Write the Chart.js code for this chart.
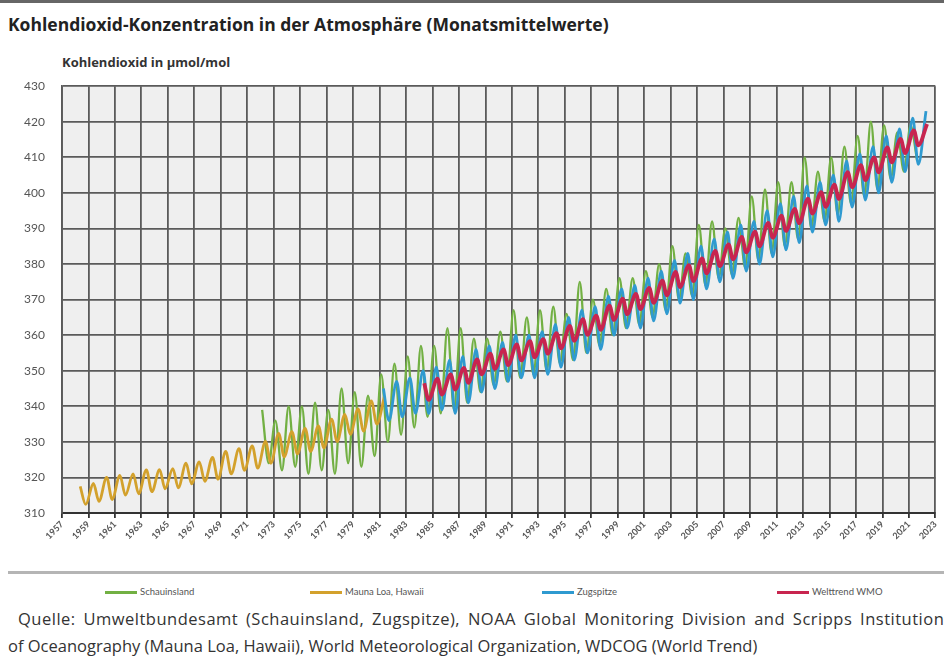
<!DOCTYPE html>
<html lang="de">
<head>
    <meta charset="UTF-8">
    <title>Kohlendioxid-Konzentration</title>
    <script src="https://cdn.jsdelivr.net/npm/chart.js"></script>
    <style>
        body {
            margin: 0;
            width: 944px;
            height: 656px;
            overflow: hidden;
            background: #fff;
            font-family: 'Open Sans', 'Lato', sans-serif;
            color: #333;
            position: relative;
        }

        .topbar {
            position: absolute;
            left: 0; top: 0;
            width: 944px; height: 3px;
            background: #666;
        }

        h1 {
            position: absolute;
            left: 8px; top: 12px;
            margin: 0;
            font-size: 17.5px;
            font-weight: bold;
            color: #222;
            white-space: nowrap;
        }

        .unit {
            position: absolute;
            left: 62px; top: 53px;
            font-size: 13px;
            font-weight: bold;
            color: #333;
        }

        .chart-box {
            position: absolute;
            left: 0; top: 62px;
            width: 944px; height: 498px;
        }

        canvas { display: block; }

        .rule {
            position: absolute;
            left: 8px; top: 571px;
            width: 936px; height: 3px;
            background: #b5b5b5;
        }

        .legend {
            position: absolute;
            top: 586px; left: 0;
            width: 944px; height: 12px;
            font-family: 'Lato', sans-serif;
            font-size: 9.5px;
            color: #555;
        }

        .legend span {
            position: absolute;
            top: 0;
            white-space: nowrap;
        }

        .legend i {
            display: inline-block;
            width: 32px; height: 3px;
            vertical-align: middle;
            margin-right: 3px;
        }

        .source {
            position: absolute;
            font-size: 16.5px;
            color: #333;
            white-space: nowrap;
        }
    </style>
</head>
<body>

<div class="topbar"></div>
<h1>Kohlendioxid-Konzentration in der Atmosphäre (Monatsmittelwerte)</h1>
<div class="unit">Kohlendioxid in µmol/mol</div>

<div class="chart-box">
    <canvas id="co2Chart" width="944" height="498"></canvas>
</div>

<div class="rule"></div>
<div class="legend" id="legend"></div>

<div class="source" style="left:18px; top:607px; letter-spacing:0.5px; word-spacing:3px;">Quelle: Umweltbundesamt (Schauinsland, Zugspitze), NOAA Global Monitoring Division and Scripps Institution</div>
<div class="source" style="left:8px; top:634px;">of Oceanography (Mauna Loa, Hawaii), World Meteorological Organization, WDCOG (World Trend)</div>

<script>
    // Achsen
    const yearTicks = [1957, 1959, 1961, 1963, 1965, 1967, 1969, 1971, 1973, 1975, 1977, 1979, 1981, 1983,
        1985, 1987, 1989, 1991, 1993, 1995, 1997, 1999, 2001, 2003, 2005, 2007, 2009, 2011, 2013, 2015,
        2017, 2019, 2021, 2023];
    const co2Ticks = [310, 320, 330, 340, 350, 360, 370, 380, 390, 400, 410, 420, 430];

    // Mauna Loa, Hawaii: Jahresmaximum (Mai) und -minimum (Oktober), ab 1958
    const maunaLoaStart = 1958;
    const maunaLoaHigh = [317.5, 318.3, 320.0, 320.6, 321.0, 322.1, 322.2, 322.5, 324.0, 324.4, 325.6, 327.3,
        328.1, 328.9, 330.1, 332.4, 332.9, 333.8, 334.5, 336.4, 337.7, 339.3, 341.5, 342.9];
    const maunaLoaLow = [312.4, 313.3, 313.8, 315.0, 315.4, 316.0, 316.8, 317.1, 318.2, 318.9, 319.5, 321.0,
        322.0, 322.6, 324.0, 325.8, 326.6, 327.3, 328.3, 330.1, 332.1, 333.0, 335.0];

    // Schauinsland: Wintermaximum (Februar) und Sommerminimum (August), ab 1972
    const schauinslandStart = 1972;
    const schauinslandHigh = [339, 336, 340, 340, 341, 339, 345, 344, 343, 349, 352, 354, 357, 357, 362, 362,
        359, 359, 361, 367, 365, 367, 368, 366, 375, 370, 373, 376, 376, 378, 380, 385, 383, 391, 392, 390,
        393, 399, 401, 403, 403, 410, 406, 410, 413, 416, 420, 419, 417, 419];
    const schauinslandLow = [324, 322, 323, 321, 322, 321, 324, 323, 326, 330, 332, 334, 337, 338, 339, 341,
        344, 346, 347, 348, 349, 350, 352, 353, 355, 357, 360, 362, 363, 365, 367, 370, 371, 374, 376, 377,
        379, 381, 383, 385, 387, 390, 392, 394, 397, 399, 401, 404, 406, 409];

    // Zugspitze: Maximum (April) und Minimum (September), ab 1981
    const zugspitzeStart = 1981;
    const zugspitzeHigh = [345, 347, 348, 350, 351, 353, 354, 356, 357, 358, 360, 360, 361, 363, 365, 367,
        368, 371, 373, 374, 376, 378, 381, 383, 385, 387, 389, 391, 392, 395, 397, 399, 402, 403, 405, 409,
        411, 413, 416, 418, 421, 423];
    const zugspitzeLow = [336, 337, 338, 338, 339, 338, 341, 344, 345, 347, 348, 348, 349, 351, 353, 355,
        356, 360, 362, 362, 364, 366, 369, 370, 373, 375, 376, 378, 380, 382, 384, 386, 389, 391, 392, 396,
        398, 400, 403, 406, 408];

    // Welttrend WMO: Maximum (Mai) und Minimum (September), ab 1984
    const wmoStart = 1984;
    const wmoHigh = [346.5, 347.8, 349.0, 350.8, 353.2, 354.8, 356.0, 357.4, 358.3, 358.9, 360.6, 362.6,
        364.5, 365.5, 368.3, 370.3, 371.6, 373.3, 375.3, 377.8, 379.7, 381.6, 383.7, 385.5, 387.6, 389.1,
        391.6, 393.6, 395.5, 398.4, 400.2, 402.3, 405.8, 407.8, 410.0, 412.8, 415.2, 417.6, 419.4];
    const wmoLow = [341.8, 343.3, 344.7, 346.6, 349.0, 350.5, 351.6, 352.9, 353.8, 354.8, 356.3, 358.4,
        360.1, 361.5, 364.3, 365.9, 367.3, 369.1, 371.2, 373.5, 375.2, 377.4, 379.4, 381.3, 383.3, 385.0,
        387.4, 389.3, 391.5, 394.2, 396.1, 398.3, 401.6, 403.6, 405.8, 408.6, 411.2, 413.4];

    // Maxima und Minima abwechselnd zu einer Zeitreihe zusammensetzen
    function toSeries(startYear, highs, lows, highMonth, lowMonth) {
        const points = [];
        for (let i = 0; i < highs.length; i++) {
            points.push({ x: startYear + i + (highMonth - 0.5) / 12, y: highs[i] });
            if (lows[i] !== undefined) {
                points.push({ x: startYear + i + (lowMonth - 0.5) / 12, y: lows[i] });
            }
        }
        return points;
    }

    const series = [
        { label: 'Schauinsland', color: '#72b043', width: 2.3, order: 3,
          data: toSeries(schauinslandStart, schauinslandHigh, schauinslandLow, 2, 8) },
        { label: 'Mauna Loa, Hawaii', color: '#d3a12c', width: 2.8, order: 2,
          data: toSeries(maunaLoaStart, maunaLoaHigh, maunaLoaLow, 5, 10) },
        { label: 'Zugspitze', color: '#2f9ad0', width: 2.8, order: 1,
          data: toSeries(zugspitzeStart, zugspitzeHigh, zugspitzeLow, 4, 9) },
        { label: 'Welttrend WMO', color: '#c8254f', width: 3.8, order: 0,
          data: toSeries(wmoStart, wmoHigh, wmoLow, 5, 9) }
    ];

    // Grauer Hintergrund der Zeichenfläche
    const plotBackground = {
        id: 'plotBackground',
        beforeDraw(chart) {
            const { ctx, chartArea } = chart;
            ctx.save();
            ctx.fillStyle = '#efefef';
            ctx.fillRect(chartArea.left, chartArea.top, chartArea.width, chartArea.height);
            ctx.restore();
        }
    };

    const ctx = document.getElementById('co2Chart').getContext('2d');
    new Chart(ctx, {
        type: 'line',
        data: {
            datasets: series.map(s => ({
                label: s.label,
                data: s.data,
                borderColor: s.color,
                borderWidth: s.width,
                pointRadius: 0,
                fill: false,
                cubicInterpolationMode: 'monotone',
                order: s.order
            }))
        },
        options: {
            responsive: false,
            animation: false,
            devicePixelRatio: 1,
            layout: { padding: { top: 7, right: 2, left: 0, bottom: 0 } },
            plugins: {
                legend: { display: false },
                tooltip: { enabled: false }
            },
            scales: {
                x: {
                    type: 'linear',
                    min: 1957,
                    max: 2023,
                    afterBuildTicks: scale => { scale.ticks = yearTicks.map(v => ({ value: v })); },
                    afterFit: scale => { scale.height = 47; },
                    grid: { color: '#5a5a5a', lineWidth: 1.8, tickLength: 5, tickColor: '#333' },
                    border: { color: '#333', width: 2 },
                    ticks: {
                        minRotation: 45,
                        maxRotation: 45,
                        padding: 1,
                        color: '#555',
                        font: { family: 'Lato', size: 9, weight: 'bold' },
                        callback: v => String(v)
                    }
                },
                y: {
                    min: 310,
                    max: 430,
                    afterBuildTicks: scale => { scale.ticks = co2Ticks.map(v => ({ value: v })); },
                    afterFit: scale => { scale.width = 62; },
                    grid: { color: '#5a5a5a', lineWidth: 1.8, tickLength: 0 },
                    border: { color: '#5a5a5a', width: 1.8 },
                    ticks: {
                        padding: 17,
                        color: '#555',
                        font: { family: 'Lato', size: 12 }
                    }
                }
            }
        },
        plugins: [plotBackground]
    });

    // Legende unten, wie im Original weit auseinandergezogen
    const legendLeft = [105, 310, 542, 777];
    const legend = document.getElementById('legend');
    series.forEach((s, i) => {
        const item = document.createElement('span');
        item.style.left = legendLeft[i] + 'px';
        item.innerHTML = `<i style="background:${s.color}"></i>${s.label}`;
        legend.appendChild(item);
    });
</script>

</body>
</html>
